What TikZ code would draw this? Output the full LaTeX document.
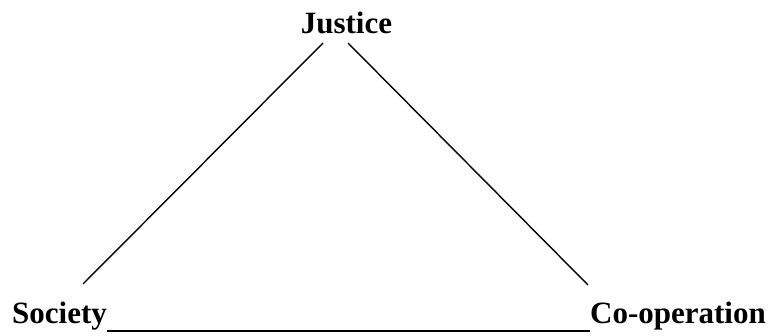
\documentclass[tikz,border=0pt]{standalone}
\usepackage{fontspec}
\setmainfont{Liberation Serif}
\usetikzlibrary{positioning}
\tikzset{
  term/.style={font=\fontsize{31}{36}\selectfont\bfseries,inner sep=0pt,text=black},
  side/.style={draw=black,line width=1.4pt},
  base/.style={draw=black,line width=2pt}
}

\begin{document}
\begin{tikzpicture}[x=1pt,y=1pt]
  \useasboundingbox (0,0) rectangle (771,-335);
  \node[term,anchor=base] (jus) at (346.5,-33) {Justice};
  \node[term,anchor=base west] (soc) at (12,-323) {Society};
  \node[term,anchor=base west] (coop) at (590,-323) {Co-operation};
  \draw[side] ([shift={(-23.5,-10)}]jus.base) -- ([shift={(71,39)}]soc.base west);
  \draw[side] ([shift={(1.5,-10)}]jus.base) -- ([shift={(-2,38)}]coop.base west);
  \draw[base] ([yshift=-8]soc.base east) -- ([yshift=-8]coop.base west);
\end{tikzpicture}
\end{document}
